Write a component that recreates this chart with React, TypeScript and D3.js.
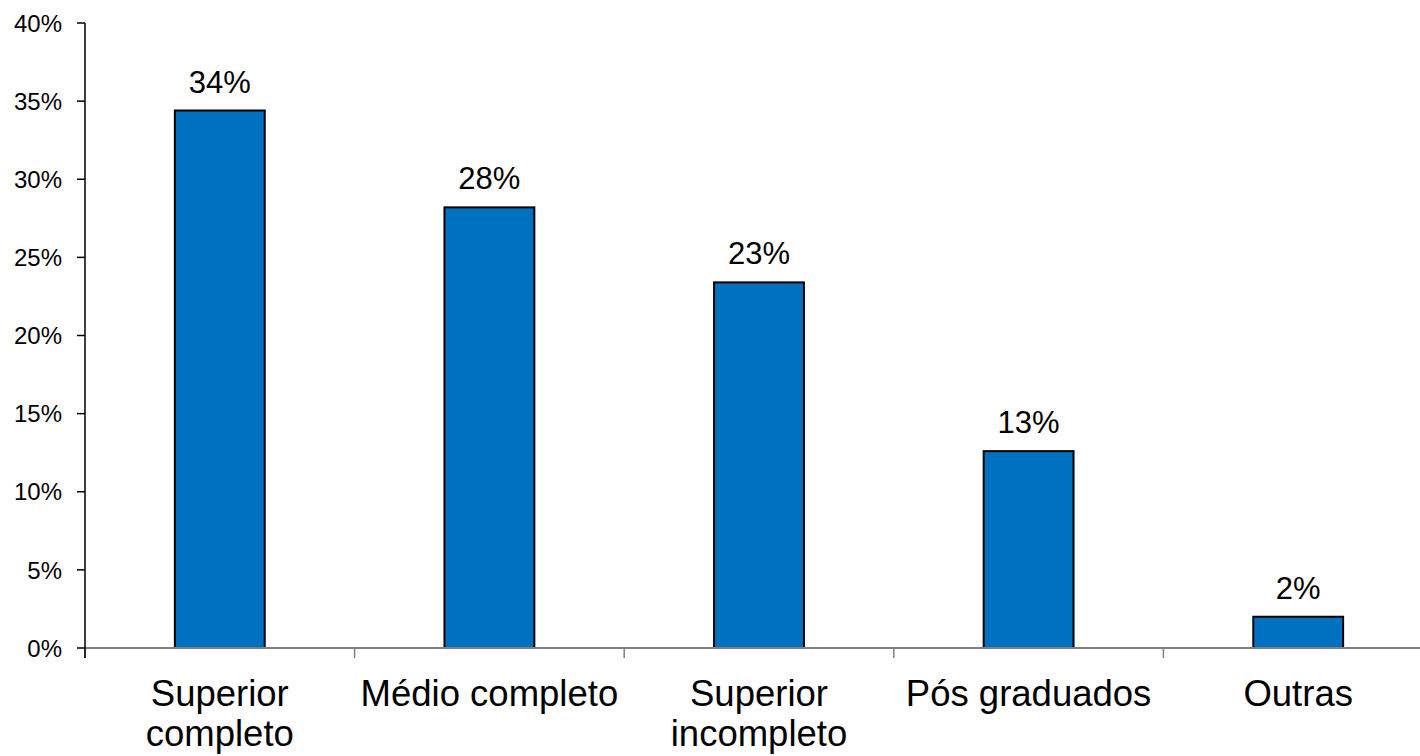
import React from "react";
import * as d3 from "d3";

const categories: string[][] = [
  ["Superior", "completo"],
  ["Médio completo"],
  ["Superior", "incompleto"],
  ["Pós graduados"],
  ["Outras"],
];
const values: number[] = [34.4, 28.2, 23.4, 12.6, 2.0];
const yTicks: number[] = [0, 5, 10, 15, 20, 25, 30, 35, 40];

const W = 1420;
const H = 756;
const X0 = 85;
const STEP = 269.6;
const Y0 = 648;
const YTOP = 23;
const FONT = "'Liberation Sans', Arial, sans-serif";

export default function App() {
  const keys = categories.map((c) => c.join(" "));
  const x = d3
    .scaleBand<string>()
    .domain(keys)
    .range([X0, X0 + STEP * keys.length])
    .paddingInner(2 / 3)
    .paddingOuter(1 / 3);
  const y = d3.scaleLinear().domain([0, 40]).range([Y0, YTOP]);
  const step = x.step();

  return (
    <svg
      width={W}
      height={H}
      style={{ position: "absolute", left: 0, top: 0, background: "#fff" }}
      fontFamily={FONT}
    >
      {values.map((v, i) => (
        <rect
          key={i}
          x={x(keys[i])!}
          y={y(v)}
          width={x.bandwidth()}
          height={y(0) - y(v)}
          fill="#0070C0"
          stroke="#000"
          strokeWidth={2}
        />
      ))}
      <line x1={X0} x2={W} y1={Y0} y2={Y0} stroke="#808080" strokeWidth={2} />
      {d3.range(keys.length + 1).map((i) => (
        <line
          key={i}
          x1={X0 + i * step}
          x2={X0 + i * step}
          y1={Y0}
          y2={Y0 + 10}
          stroke="#808080"
          strokeWidth={1.5}
        />
      ))}
      <line x1={X0} x2={X0} y1={YTOP} y2={Y0 + 10} stroke="#000" strokeWidth={1.5} />
      {yTicks.map((t) => (
        <g key={t}>
          <line x1={X0 - 8} x2={X0} y1={y(t)} y2={y(t)} stroke="#000" strokeWidth={1.5} />
          <text
            x={X0 - 23}
            y={y(t)}
            dy="0.36em"
            textAnchor="end"
            fontSize={24}
            fill="#000"
          >
            {t}%
          </text>
        </g>
      ))}
      {values.map((v, i) => (
        <text
          key={i}
          x={x(keys[i])! + x.bandwidth() / 2}
          y={y(v) - 18}
          textAnchor="middle"
          fontSize={31}
          fill="#000"
        >
          {Math.round(v)}%
        </text>
      ))}
      {categories.map((lines, i) => (
        <text
          key={i}
          x={x(keys[i])! + x.bandwidth() / 2}
          y={706}
          textAnchor="middle"
          fontSize={36.5}
          fill="#000"
        >
          {lines.map((l, j) => (
            <tspan key={j} x={x(keys[i])! + x.bandwidth() / 2} dy={j === 0 ? 0 : 40}>
              {l}
            </tspan>
          ))}
        </text>
      ))}
    </svg>
  );
}
